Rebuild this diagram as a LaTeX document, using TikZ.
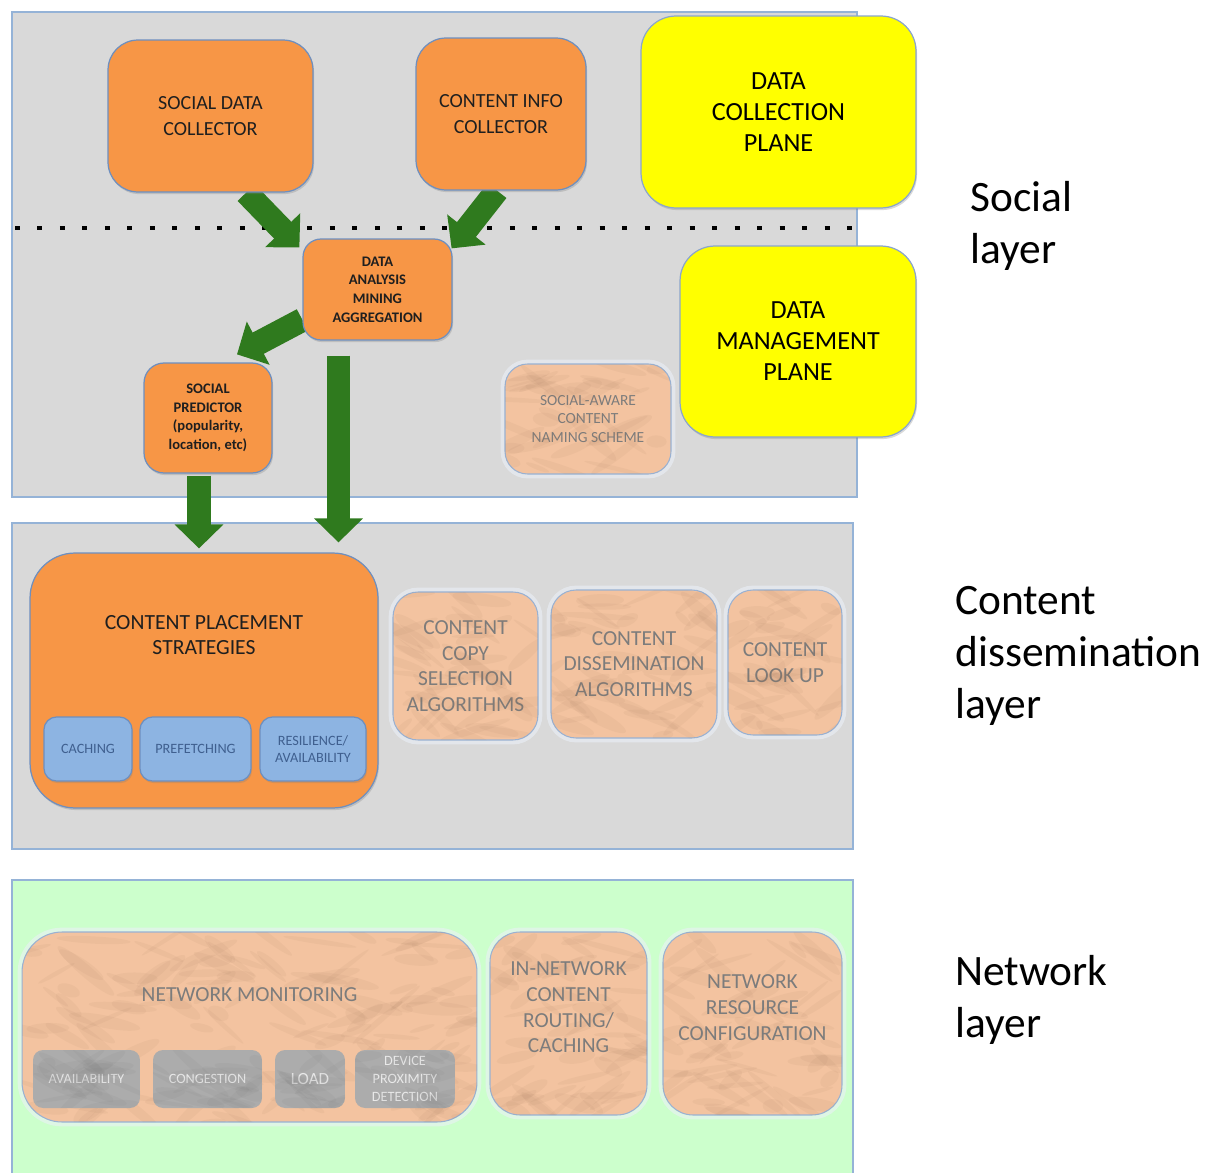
\documentclass[tikz,border=0pt]{standalone}
\usepackage{fontspec}
\setmainfont{Carlito}
\usetikzlibrary{arrows.meta,shadows}

\definecolor{panelgray}{HTML}{D9D9D9}
\definecolor{panelline}{HTML}{95B3D7}
\definecolor{netgreen}{HTML}{CCFFCC}
\definecolor{boxorange}{HTML}{F79646}
\definecolor{boxline}{HTML}{6E8FBF}
\definecolor{boxyellow}{HTML}{FFFF00}
\definecolor{boxblue}{HTML}{8DB4E2}
\definecolor{bluetext}{HTML}{3F5F8F}
\definecolor{peach}{HTML}{F3C3A0}
\definecolor{peachtext}{HTML}{7C7C7C}
\definecolor{vein}{HTML}{9A7358}
\definecolor{stone}{HTML}{ACACAC}
\definecolor{stonevein}{HTML}{6F6F6F}
\definecolor{stonetext}{HTML}{E9E9E9}
\definecolor{flowgreen}{HTML}{2F7A1E}

\pgfdeclarelayer{back}
\pgfdeclarelayer{mid}
\pgfsetlayers{back,mid,main}

% mottled marble veins inside a rounded box: x1, y1, x2, y2, corner radius, colour, count
\newcommand\marbletexture[7]{%
  \begin{scope}
    \clip[rounded corners=#5] (#1,#2) rectangle (#3,#4);
    \foreach \k in {1,...,#7}{%
      \pgfmathsetmacro\mx{#1+rnd*(#3-#1)}%
      \pgfmathsetmacro\my{#2+rnd*(#4-#2)}%
      \pgfmathsetmacro\ma{rnd*90-45}%
      \pgfmathsetmacro\ml{10+rnd*30}%
      \pgfmathsetmacro\mw{2+rnd*5}%
      \fill[#6, opacity=0.07, rotate around={\ma:(\mx,\my)}]
        (\mx,\my) ellipse [x radius=\ml, y radius=\mw];
    }
  \end{scope}}

\begin{document}
\begin{tikzpicture}[x=0.02cm, y=-0.02cm,
  panel/.style={draw=panelline, line width=0.9pt, inner sep=0pt},
  softshadow/.style={drop shadow={shadow xshift=0.6pt, shadow yshift=-1.2pt, opacity=0.3}},
  obox/.style={draw=boxline, line width=0.7pt, fill=boxorange, inner sep=0pt,
    align=center, text=black!88, softshadow},
  ybox/.style={draw=boxline!80, line width=0.7pt, fill=boxyellow, inner sep=0pt,
    align=center, text=black, softshadow, rounded corners=0.7cm, font=\planefont},
  bbox/.style={draw=boxline, line width=0.7pt, fill=boxblue, inner sep=0pt,
    align=center, text=bluetext, rounded corners=0.25cm, minimum height=1.28cm,
    softshadow, font=\tinyfont},
  pbox/.style={draw=boxline!70, line width=0.6pt, fill=peach, inner sep=0pt,
    align=center, text=peachtext,
    preaction={draw=white!80!panelline, line width=5pt, opacity=0.6}},
  sbox/.style={fill=stone, inner sep=0pt, align=center, text=stonetext,
    rounded corners=0.2cm, minimum height=1.16cm, font=\tinyfont},
  ptext/.style={inner sep=0pt, align=center, text=peachtext},
  dotrow/.style={draw=black, line width=2.8pt, dash pattern=on 2.8pt off 10pt},
  flow/.style={draw=flowgreen, line width=0.48cm,
    -{Triangle[length=0.48cm, width=0.95cm]}},
  layerlabel/.style={inner sep=0pt, align=left, anchor=west, font=\layerfont},
  bigfont/.style={font=\fontsize{12.2}{14.6}\selectfont},
  collfont/.style={font=\fontsize{11.4}{14.7}\selectfont},
  smallfont/.style={font=\fontsize{8.8}{10.6}\selectfont},
  boldsmall/.style={font=\bfseries\fontsize{8.3}{10.6}\selectfont},
]
\def\planefont{\fontsize{14.9}{17.6}\selectfont}
\def\tinyfont{\fontsize{8.1}{10.1}\selectfont}
\def\layerfont{\fontsize{24.7}{29.5}\selectfont}
\pgfmathsetseed{11}

\useasboundingbox (0,0) rectangle (1215,1173);
\clip (0,0) rectangle (1215,1173);

% three layer panels and the plane boundary
\begin{pgfonlayer}{back}
\node[panel, fill=panelgray, minimum width=16.9cm, minimum height=9.7cm] (social) at (434.5,254.5) {};
\node[panel, fill=panelgray, minimum width=16.82cm, minimum height=6.52cm] (dissem) at (432.5,686) {};
\node[panel, fill=netgreen, minimum width=16.82cm, minimum height=6.2cm] (network) at (432.5,1035) {};
\coordinate (dotl) at (15,228);
\coordinate (dotr) at (856,228);
\draw[dotrow] (dotl) -- (dotr);
\end{pgfonlayer}

% social layer boxes
\node[obox, rounded corners=0.6cm, minimum width=4.1cm, minimum height=3.04cm, collfont]
  (sdc) at (210.5,116) {SOCIAL DATA\\COLLECTOR};
\node[obox, rounded corners=0.6cm, minimum width=3.4cm, minimum height=3.04cm, collfont]
  (cic) at (501,114) {CONTENT INFO\\COLLECTOR};
\node[ybox, minimum width=5.5cm, minimum height=3.84cm] (dcp) at (778.5,112)
  {DATA\\COLLECTION\\PLANE};
\node[ybox, minimum width=4.72cm, minimum height=3.82cm] (dmp) at (798,341.5)
  {DATA\\MANAGEMENT\\PLANE};
\node[obox, rounded corners=0.36cm, minimum width=2.98cm, minimum height=2.02cm, boldsmall]
  (dam) at (377.5,289.5) {DATA\\ANALYSIS\\MINING\\AGGREGATION};
\node[obox, rounded corners=0.4cm, minimum width=2.56cm, minimum height=2.2cm, boldsmall]
  (sp) at (208,418) {SOCIAL\\PREDICTOR\\(popularity,\\location, etc)};
\node[pbox, rounded corners=0.45cm, minimum width=3.32cm, minimum height=2.2cm, smallfont]
  (san) at (588,419) {SOCIAL-AWARE\\CONTENT\\NAMING SCHEME};
\marbletexture{505}{364}{671}{474}{0.45cm}{vein}{40}

% content dissemination layer
\node[obox, rounded corners=0.9cm, minimum width=6.96cm, minimum height=5.1cm]
  (cps) at (204,680.5) {};
\node[inner sep=0pt, align=center, text=black!88, font=\fontsize{12.3}{14.7}\selectfont]
  (cpstext) at (204,635) {CONTENT PLACEMENT\\STRATEGIES};
\node[bbox, minimum width=1.76cm] (cach) at (88,749) {CACHING};
\node[bbox, minimum width=2.22cm] (pref) at (195.5,749) {PREFETCHING};
\node[bbox, minimum width=2.12cm] (resil) at (313,749) {RESILIENCE/\\AVAILABILITY};

\node[pbox, rounded corners=0.5cm, minimum width=2.9cm, minimum height=2.96cm, bigfont]
  (ccs) at (465.5,666) {CONTENT\\COPY\\SELECTION\\ALGORITHMS};
\node[pbox, rounded corners=0.5cm, minimum width=3.32cm, minimum height=2.96cm, bigfont]
  (cda) at (634,664) {CONTENT\\DISSEMINATION\\ALGORITHMS};
\node[pbox, rounded corners=0.5cm, minimum width=2.28cm, minimum height=2.9cm, bigfont]
  (clu) at (785,662.5) {CONTENT\\LOOK UP};
\marbletexture{393}{592}{538}{740}{0.5cm}{vein}{45}
\marbletexture{551}{590}{717}{738}{0.5cm}{vein}{50}
\marbletexture{728}{590}{842}{735}{0.5cm}{vein}{40}

% network layer
\node[pbox, rounded corners=0.8cm, minimum width=9.1cm, minimum height=3.8cm]
  (nm) at (249.5,1027) {};
\node[pbox, rounded corners=0.6cm, minimum width=3.14cm, minimum height=3.66cm]
  (inc) at (568.5,1023.5) {};
\node[pbox, rounded corners=0.6cm, minimum width=3.58cm, minimum height=3.66cm]
  (nrc) at (752.5,1023.5) {};
\marbletexture{22}{932}{477}{1122}{0.8cm}{vein}{140}
\marbletexture{490}{932}{647}{1115}{0.6cm}{vein}{55}
\marbletexture{663}{932}{842}{1115}{0.6cm}{vein}{60}

\node[sbox, minimum width=2.14cm] (avail) at (86.5,1079) {AVAILABILITY};
\node[sbox, minimum width=2.18cm] (cong) at (207.5,1079) {CONGESTION};
\node[sbox, minimum width=1.4cm, font=\fontsize{9.7}{11}\selectfont] (load) at (310,1079) {LOAD};
\node[sbox, minimum width=2.0cm] (dev) at (405,1079) {DEVICE\\PROXIMITY\\DETECTION};
\marbletexture{33}{1050}{140}{1108}{0.2cm}{stonevein}{20}
\marbletexture{153}{1050}{262}{1108}{0.2cm}{stonevein}{20}
\marbletexture{275}{1050}{345}{1108}{0.2cm}{stonevein}{14}
\marbletexture{355}{1050}{455}{1108}{0.2cm}{stonevein}{20}

\node[ptext, bigfont] (nmtext) at (249.5,995) {NETWORK MONITORING};
\node[ptext, bigfont] (inctext) at (568.5,1007.5) {IN-NETWORK\\CONTENT\\ROUTING/\\CACHING};
\node[ptext, bigfont] (nrctext) at (752.5,1007.5) {NETWORK\\RESOURCE\\CONFIGURATION};

% data flow arrows, beneath the boxes
\begin{pgfonlayer}{mid}
\coordinate (a4s) at ([shift={(-39,15)}]dam.south);
\coordinate (a5s) at ([shift={(-9,2)}]sp.south);
\draw[flow] (sdc.-65) -- ([shift={(-3,9)}]dam.north west);
\draw[flow] (cic.-93) -- ([shift={(-1,10)}]dam.north east);
\draw[flow] (dam.-158) -- ([shift={(29,-8)}]sp.north);
\draw[flow] (a4s) -- ([shift={(134.5,-10)}]cps.north);
\draw[flow] (a5s) -- ([shift={(-5,-4)}]cps.north);
\end{pgfonlayer}

% layer names
\node[layerlabel] (lsocial) at (970,226) {Social\\layer};
\node[layerlabel] (ldissem) at (955,656) {Content\\dissemination\\layer};
\node[layerlabel] (lnetwork) at (955,1000) {Network\\layer};
\end{tikzpicture}
\end{document}
